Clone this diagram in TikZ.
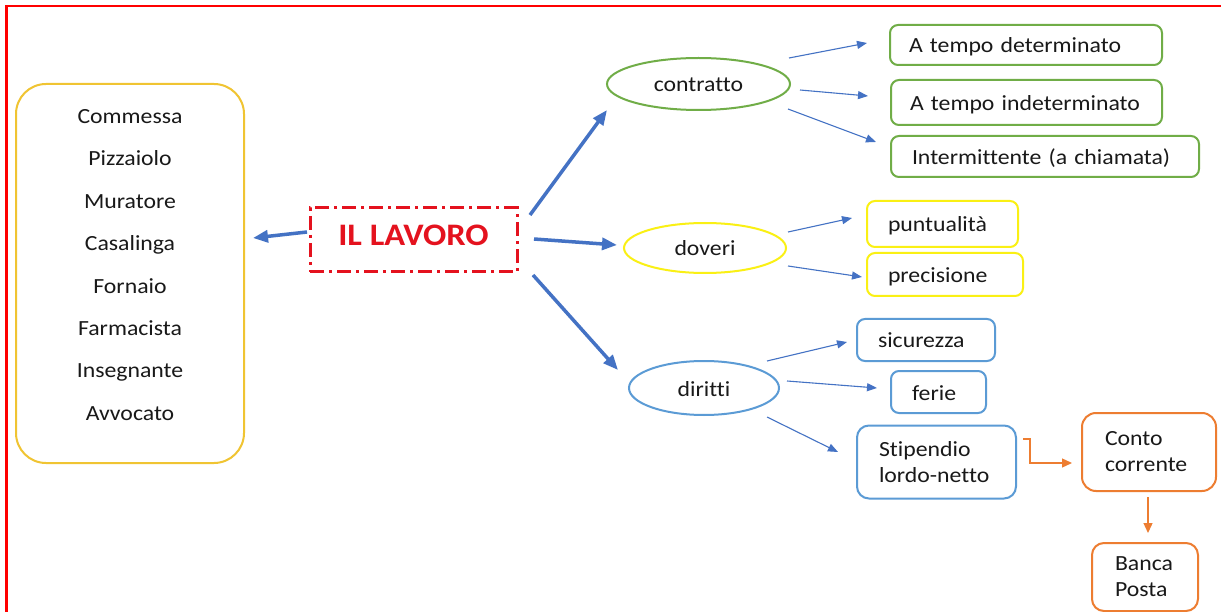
\documentclass[tikz,border=0pt]{standalone}
\usepackage{fontspec}
\setmainfont{Carlito}[FakeStretch=1.1, Ligatures={NoCommon,NoContextual}]
\usetikzlibrary{arrows.meta,shapes.geometric}
\definecolor{frame}{RGB}{255,0,0}
\definecolor{lavred}{RGB}{228,18,30}
\definecolor{arrblue}{RGB}{68,114,196}
\definecolor{shblue}{RGB}{91,155,213}
\definecolor{grn}{RGB}{112,173,71}
\definecolor{ylw}{RGB}{250,240,20}
\definecolor{gold}{RGB}{240,196,50}
\definecolor{orng}{RGB}{237,125,49}
\begin{document}
\begin{tikzpicture}[x=1pt,y=-1pt,
  every node/.style={font=\fontsize{21.6}{26}\selectfont, text=black!90},
  oval/.style={ellipse, draw, line width=2pt, inner sep=0pt, text height=17pt, text depth=1pt},
  rbox/.style={draw, rounded corners=8pt, line width=2pt, align=left},
  one/.style={text height=17pt, text depth=1pt},
  thickarr/.style={draw=arrblue, line width=3.5pt, -{Triangle[length=15pt,width=12pt]}},
  thinarr/.style={draw=arrblue, line width=1.1pt, -{Triangle[length=10pt,width=8pt]}},
  orarr/.style={draw=orng, line width=1.3pt, -{Triangle[length=10pt,width=9pt]}}]
\useasboundingbox (0,0) rectangle (1221,612);
\fill[white] (0,0) rectangle (1221,612);
% frame
\draw[frame, line width=2.2pt] (6.5,613) -- (6.5,6) -- (1222,6);
% left list
\node[draw=gold, line width=2pt, rounded corners=30pt, minimum width=228pt, minimum height=379pt, inner sep=0pt] (jobs) at (130,273.5) {};
\node[align=center, font=\fontsize{21.6}{42.4}\selectfont] (jobslist) at (130,265)
 {Commessa\\Pizzaiolo\\Muratore\\Casalinga\\Fornaio\\Farmacista\\Insegnante\\Avvocato};
% central node
\node[draw=lavred, line width=3pt, dash pattern=on 14pt off 5pt on 3pt off 5pt,
  minimum width=207pt, minimum height=64pt, inner sep=0pt, text depth=10pt,
  font=\fontsize{31.3}{36}\selectfont\bfseries, text=lavred] (lavoro) at (413.5,240) {IL LAVORO};
% ellipses
\node[oval, draw=grn, minimum width=183pt, minimum height=52pt] (contr) at (698.5,84) {contratto};
\node[oval, draw=ylw, minimum width=162pt, minimum height=50pt] (dov) at (705,248) {doveri};
\node[oval, draw=shblue, minimum width=150pt, minimum height=54pt] (dir) at (704,388) {diritti};
% green boxes
\node[rbox, one, draw=grn, inner xsep=19pt, text width=234pt, minimum height=40pt] (atd) at (1026,45) {A tempo determinato};
\node[rbox, one, draw=grn, inner xsep=19pt, text width=233pt, minimum height=45pt] (ati) at (1026.5,102.5) {A tempo indeterminato};
\node[rbox, one, draw=grn, inner xsep=21pt, text width=266pt, minimum height=41pt] (intm) at (1045,156.5) {Intermittente (a chiamata)};
% yellow boxes
\node[rbox, one, draw=ylw, inner xsep=21pt, text width=109pt, minimum height=46pt] (punt) at (942.5,224) {puntualità};
\node[rbox, one, draw=ylw, inner xsep=21pt, text width=114pt, minimum height=43pt] (prec) at (945,274.5) {precisione};
% blue boxes
\node[rbox, one, draw=shblue, inner xsep=21pt, text width=96pt, minimum height=42pt] (sic) at (926,340) {sicurezza};
\node[rbox, one, draw=shblue, inner xsep=21pt, text width=53pt, minimum height=42pt] (fer) at (938.5,392) {ferie};
\node[rbox, draw=shblue, inner xsep=22pt, text width=115pt, minimum height=73pt, rounded corners=12pt] (stip) at (936.5,462) {Stipendio\\lordo-netto};
% orange boxes
\node[rbox, draw=orng, inner xsep=23pt, text width=88pt, minimum height=78pt, rounded corners=14pt] (conto) at (1149,452) {Conto\\corrente};
\node[rbox, draw=orng, inner xsep=23pt, text width=60pt, minimum height=68pt, rounded corners=12pt] (banca) at (1145,577) {Banca\\Posta};
% thick arrows
\draw[thickarr] ([shift={(-106.5,-8)}]lavoro.center) -- ([shift={(123,-35.5)}]jobs.center);
\draw[thickarr] ([shift={(116.5,-25)}]lavoro.center) -- ([shift={(-91.5,26)}]contr.center);
\draw[thickarr] ([shift={(120.5,-1)}]lavoro.center) -- ([shift={(-88,-3)}]dov.center);
\draw[thickarr] ([shift={(119.5,35)}]lavoro.center) -- ([shift={(-86,-18)}]dir.center);
% thin arrows
\draw[thinarr] ([shift={(90.5,-26)}]contr.center) -- ([shift={(-159,-2)}]atd.center);
\draw[thinarr] ([shift={(101.5,6)}]contr.center) -- ([shift={(-158.5,-6.5)}]ati.center);
\draw[thinarr] ([shift={(89.5,25)}]contr.center) -- ([shift={(-169,-14.5)}]intm.center);
\draw[thinarr] ([shift={(83,-16)}]dov.center) -- ([shift={(-90.5,-6)}]punt.center);
\draw[thinarr] ([shift={(83,18)}]dov.center) -- ([shift={(-83,2.5)}]prec.center);
\draw[thinarr] ([shift={(63,-27)}]dir.center) -- ([shift={(-79,2)}]sic.center);
\draw[thinarr] ([shift={(83,-7)}]dir.center) -- ([shift={(-61.5,-4)}]fer.center);
\draw[thinarr] ([shift={(63,29)}]dir.center) -- ([shift={(-98.5,-10)}]stip.center);
% orange arrows
\draw[orarr] ([shift={(86.5,-23)}]stip.center) -- ++(7,0) |- ([shift={(-77,11)}]conto.center);
\draw[orarr] ([shift={(-1,45)}]conto.center) -- ([shift={(3,-44)}]banca.center);
\end{tikzpicture}
\end{document}
